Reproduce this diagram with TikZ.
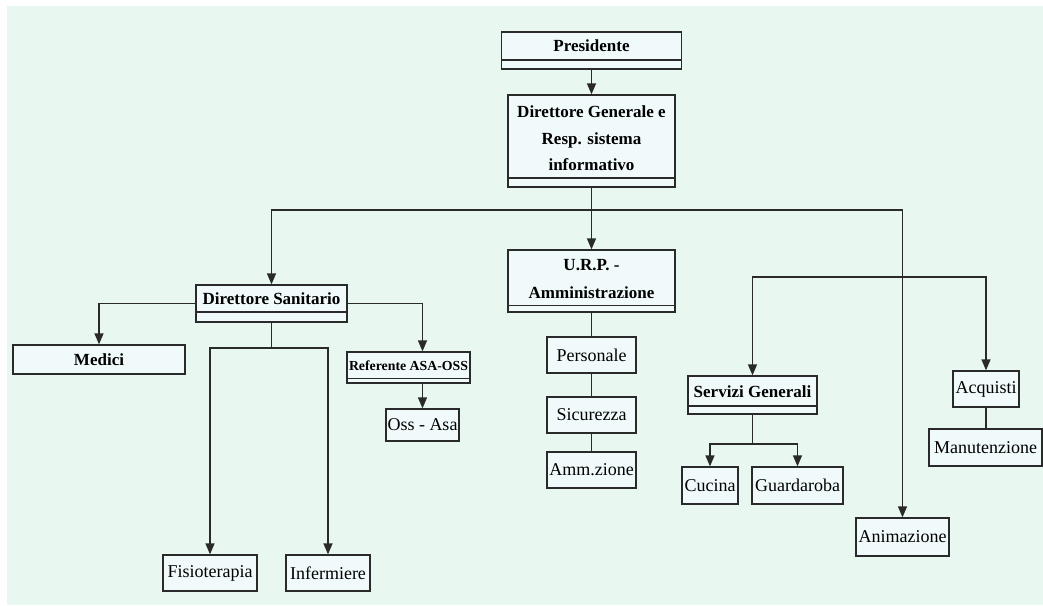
\documentclass[tikz,border=0pt]{standalone}
\usepackage{fontspec}
\setmainfont{Liberation Serif}
\usetikzlibrary{arrows.meta}
\definecolor{bgc}{HTML}{E8F7F0}
\definecolor{boxc}{HTML}{F0FAFB}
\definecolor{linec}{HTML}{2A2A2A}
\tikzset{
  box/.style={draw=linec, fill=boxc, line width=1.3pt, inner sep=1pt, font=\fontsize{18}{20}\selectfont},
  sbox/.style={box, path picture={\draw[linec, line width=1.3pt] ([yshift=#1]path picture bounding box.south west) -- ([yshift=#1]path picture bounding box.south east);}},
  btxt/.style={inner sep=0pt, align=center, font=\fontsize{17}{26.5}\selectfont\bfseries},
  conn/.style={draw=linec, line width=1.3pt},
  arr/.style={conn, -{Triangle[length=11pt,width=9pt]}}
}
\begin{document}
\begin{tikzpicture}[x=1pt,y=-1pt]
\useasboundingbox (0,0) rectangle (1043,605);
\fill[bgc] (7,6) rectangle (1043,605);

% boxes with a strip
\node[sbox=9pt, minimum width=180pt, minimum height=37pt] (pres) at (591.5,50.5) {};
\node[btxt] (presT) at ([yshift=4.5pt]pres.center) {Presidente};
\node[sbox=9pt, minimum width=167pt, minimum height=92pt] (dg) at (591.5,141) {};
\node[btxt] (dgT) at ([yshift=2.5pt]dg.center) {Direttore Generale e\\Resp. sistema\\informativo};
\node[sbox=6.5pt, minimum width=167pt, minimum height=62pt] (urp) at (591.5,281) {};
\node[btxt] (urpT) at ([yshift=2pt]urp.center) {U.R.P. -\\[1pt]Amministrazione};
\node[sbox=10pt, minimum width=151pt, minimum height=37pt] (ds) at (271.5,303.5) {};
\node[btxt] (dsT) at ([yshift=5pt]ds.center) {Direttore Sanitario};
\node[sbox=4.5pt, minimum width=123pt, minimum height=31pt] (ref) at (408.5,367.5) {};
\node[btxt, font=\fontsize{13.8}{17}\selectfont\bfseries] (refT) at ([yshift=1.5pt]ref.center) {Referente ASA-OSS};
\node[sbox=8pt, minimum width=129pt, minimum height=38pt] (serv) at (752.5,395) {};
\node[btxt] (servT) at ([yshift=3pt]serv.center) {Servizi Generali};

% plain boxes
\node[box, minimum width=172pt, minimum height=29pt, font=\fontsize{17}{20}\selectfont\bfseries] (medici) at (99,359.5) {Medici};
\node[box, minimum width=73pt, minimum height=32pt] (oss) at (422.5,425) {Oss - Asa};
\node[box, minimum width=94pt, minimum height=36pt] (fisio) at (210,573) {Fisioterapia};
\node[box, minimum width=84pt, minimum height=36pt] (inferm) at (328,573) {Infermiere};
\node[box, minimum width=89pt, minimum height=36pt] (pers) at (591.5,355) {Personale};
\node[box, minimum width=89pt, minimum height=36pt] (sic) at (591.5,415) {Sicurezza};
\node[box, minimum width=89pt, minimum height=36pt] (amm) at (591.5,470) {Amm.zione};
\node[box, minimum width=56pt, minimum height=37pt] (cuc) at (710,485.5) {Cucina};
\node[box, minimum width=91pt, minimum height=37pt] (guard) at (797.5,485.5) {Guardaroba};
\node[box, minimum width=66pt, minimum height=36pt] (acq) at (986,389) {Acquisti};
\node[box, minimum width=113pt, minimum height=37pt] (manut) at (985.5,447.5) {Manutenzione};
\node[box, minimum width=93pt, minimum height=38pt] (anim) at (902.5,537) {Animazione};

% junctions
\coordinate (j0) at (591.5,210);
\coordinate (j1) at (902.5,277);
\coordinate (j2) at (271.5,348);
\coordinate (j3) at (752.5,444);

% connectors
\draw[arr] (pres.south) -- (dg.north);
\draw[conn] (dg.south) -- (j0);
\draw[arr] (j0) -- (urp.north);
\draw[arr] (j0) -| (ds.north);
\draw[arr] (j0) -| (anim.north);
\draw[arr] (j1) -| (serv.north);
\draw[arr] (j1) -| (acq.north);
\draw[conn] (acq.south) -- (acq.south |- manut.north);
\draw[arr] (ds.west) -| (medici.north);
\draw[arr] (ds.east) -| (oss.north |- ref.north);
\draw[arr] (oss.north |- ref.south) -- (oss.north);
\draw[conn] (ds.south) -- (j2);
\draw[arr] (j2) -| (fisio.north);
\draw[arr] (j2) -| (inferm.north);
\draw[conn] (urp.south) -- (pers.north);
\draw[conn] (pers.south) -- (sic.north);
\draw[conn] (sic.south) -- (amm.north);
\draw[conn] (serv.south) -- (j3);
\draw[arr] (j3) -| (cuc.north);
\draw[arr] (j3) -| (guard.north);
\end{tikzpicture}
\end{document}
